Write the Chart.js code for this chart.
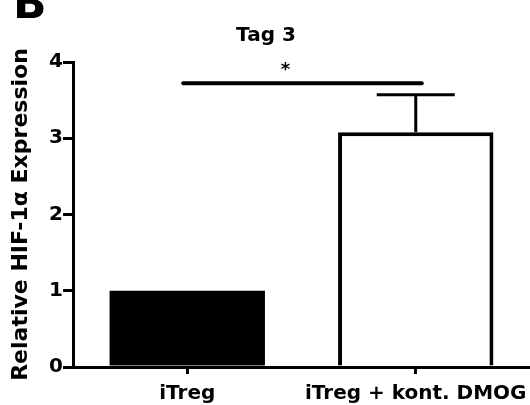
<!DOCTYPE html>
<html>
<head>
<meta charset="utf-8">
<script src="https://cdn.jsdelivr.net/npm/chart.js@4.4.0/dist/chart.umd.min.js"></script>
<style>
  html, body { margin: 0; padding: 0; background: #fff; }
  #wrap { width: 530px; height: 405px; }
</style>
</head>
<body>
<div id="wrap"><canvas id="hifChart" width="530" height="405"></canvas></div>
<script>
// values
const categories = ['iTreg', 'iTreg + kont. DMOG'];
const means = [1.0, 3.08];
const errors = [0, 0.49];
const yTicks = [0, 1, 2, 3, 4];
const sigLevel = 3.72;   // height of the significance bar
const sigMark = '*';

const FONT = '"DejaVu Sans", Verdana, sans-serif';

// draws error bars, the significance line, title and panel letter
const extrasPlugin = {
  id: 'extras',
  afterDatasetsDraw(chart) {
    const ctx = chart.ctx;
    const x = chart.scales.x;
    const y = chart.scales.y;
    ctx.save();
    ctx.strokeStyle = '#000';
    ctx.lineCap = 'butt';

    // error bars (upper only)
    means.forEach((m, i) => {
      if (!errors[i]) return;
      const cx = x.getPixelForValue(i);
      const top = y.getPixelForValue(m + errors[i]);
      ctx.lineWidth = 3;
      ctx.beginPath();
      ctx.moveTo(cx, y.getPixelForValue(m));
      ctx.lineTo(cx, top);
      ctx.stroke();
      ctx.beginPath();
      ctx.moveTo(cx - 39, top);
      ctx.lineTo(cx + 39, top);
      ctx.stroke();
    });

    // significance bar
    const sy = y.getPixelForValue(sigLevel);
    const x0 = x.getPixelForValue(0) - 4;
    const x1 = x.getPixelForValue(1) + 6;
    ctx.lineWidth = 4;
    ctx.lineCap = 'round';
    ctx.beginPath();
    ctx.moveTo(x0, sy);
    ctx.lineTo(x1, sy);
    ctx.stroke();
    ctx.fillStyle = '#000';
    ctx.font = 'bold 18px ' + FONT;
    ctx.textAlign = 'center';
    ctx.textBaseline = 'middle';
    ctx.fillText(sigMark, x.getPixelForValue(0.43), sy - 13);

    // title
    ctx.font = 'bold 20px ' + FONT;
    ctx.fillText('Tag 3', 266, 36);

    // panel letter, cut at the top edge
    ctx.font = 'bold 44px ' + FONT;
    ctx.textAlign = 'left';
    ctx.textBaseline = 'alphabetic';
    ctx.fillText('B', 13, 18);
    ctx.restore();
  }
};

new Chart(document.getElementById('hifChart'), {
  type: 'bar',
  data: {
    labels: categories,
    datasets: [{
      data: means,
      backgroundColor: ['#000', '#fff'],
      borderColor: '#000',
      borderWidth: [0, 4],
      borderSkipped: 'bottom',
      barPercentage: 0.68,
      categoryPercentage: 1.0
    }]
  },
  options: {
    responsive: false,
    animation: false,
    layout: { padding: { top: 62, right: 0, bottom: 0, left: 0 } },
    plugins: {
      legend: { display: false },
      tooltip: { enabled: false }
    },
    scales: {
      x: {
        afterFit: s => { s.height = 38; s.paddingLeft = 0; s.paddingRight = 0; },
        border: { color: '#000', width: 3 },
        grid: { offset: false, drawOnChartArea: false, drawTicks: true, tickLength: 7, color: '#000', lineWidth: 3 },
        ticks: { color: '#000', font: { family: FONT, size: 20, weight: 'bold' }, padding: 8, maxRotation: 0 }
      },
      y: {
        min: 0,
        max: 4,
        afterFit: s => { s.width = 73; },
        afterBuildTicks: s => { s.ticks = yTicks.map(v => ({ value: v })); },
        border: { color: '#000', width: 3 },
        grid: { drawOnChartArea: false, drawTicks: true, tickLength: 10, color: '#000', lineWidth: 3 },
        ticks: { color: '#000', font: { family: FONT, size: 20, weight: 'bold' }, padding: 0 },
        title: {
          display: true,
          text: 'Relative HIF-1α Expression',
          color: '#000',
          font: { family: FONT, size: 22, weight: 'bold' },
          padding: { top: 8, bottom: 0 }
        }
      }
    }
  },
  plugins: [extrasPlugin]
});
</script>
</body>
</html>
